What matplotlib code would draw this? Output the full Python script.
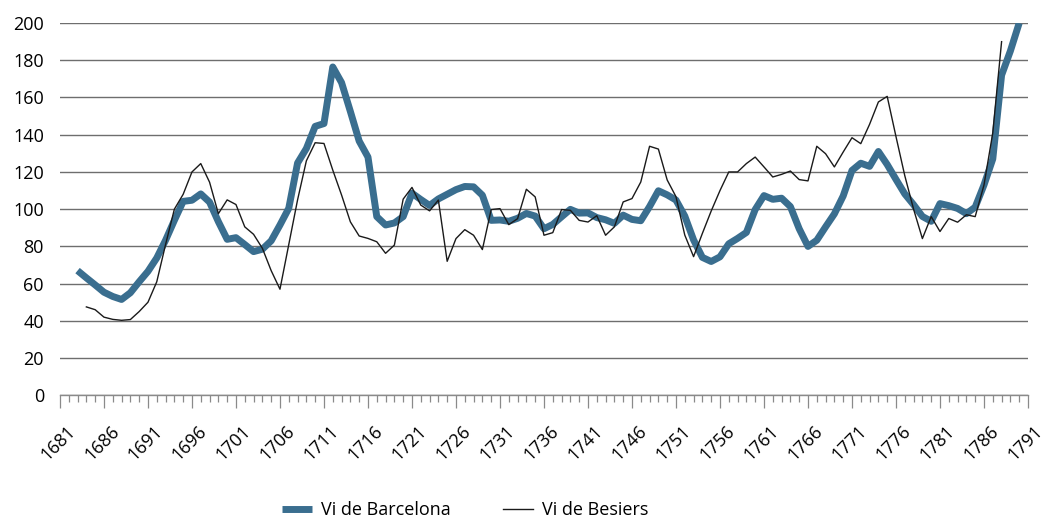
import matplotlib
matplotlib.use("Agg")
import matplotlib.pyplot as plt
import matplotlib.transforms as mtransforms
from matplotlib.ticker import MultipleLocator

# Annual price index, Barcelona wine (thick line) and Besiers wine (thin line)
barcelona_years = list(range(1683, 1791))
barcelona = [
    67, 63.1, 59.3, 55.4, 53.1, 51.5, 55.1, 61, 66.6, 73.8,            # 1683-1692
    83.3, 94, 104.2, 104.8, 108.2, 103.8, 93.3, 83.8, 84.7, 81,        # 1693-1702
    77.2, 78.5, 83, 91.5, 100.5, 124.8, 132.6, 144.5, 146, 176.4,      # 1703-1712
    168, 152.5, 136.6, 128, 96, 91.5, 92.6, 96, 108.6, 105.2,          # 1713-1722
    102, 105.5, 108, 110.5, 112.2, 112, 107.5, 94, 94.2, 93.5,         # 1723-1732
    95.1, 97.7, 96.3, 89.5, 91.8, 95.9, 99.9, 97.9, 98, 95.5,          # 1733-1742
    94.3, 92.4, 96.8, 94.5, 93.8, 101.4, 109.9, 107.7, 104.9, 96.3,    # 1743-1752
    83.5, 74.1, 71.9, 74.4, 81.4, 84.3, 87.5, 99.8, 107.3, 105.3,      # 1753-1762
    105.9, 101.4, 89.5, 80, 83.3, 90.5, 97.5, 107.1, 120.8, 124.7,     # 1763-1772
    123, 131, 124, 116, 108.2, 102.4, 96.1, 93.5, 103, 101.9,          # 1773-1782
    100.4, 97.6, 101.1, 113, 127, 172, 185, 200,                       # 1783-1790
]

besiers_years = list(range(1684, 1789))
besiers = [
    47.5, 46, 42, 40.8, 40.3, 40.7, 45, 50, 61, 81,                    # 1684-1693
    100, 108, 120, 124.5, 114.5, 97.6, 105, 102.5, 90.5, 86.5,         # 1694-1703
    79, 67, 57, 81, 105, 126, 135.7, 135.3, 121, 107.6,                # 1704-1713
    93.2, 85.6, 84.3, 82.5, 76.3, 80.7, 105.4, 111.7, 102.2, 99.1,     # 1714-1723
    104.9, 72, 84.2, 89, 86, 78.3, 99.8, 100.3, 91.7, 94.9,            # 1724-1733
    110.7, 106.6, 86, 87.4, 99.8, 99.4, 94, 93.1, 96.5, 86,            # 1734-1743
    90.5, 103.9, 105.7, 114.6, 133.8, 132.3, 115.7, 106.7, 86.1, 74.5, # 1744-1753
    87, 99, 110, 120, 120, 124.5, 128, 122.7, 117.3, 118.7,            # 1754-1763
    120.5, 115.9, 115.2, 133.8, 129.8, 122.7, 130.7, 138.4, 135.2, 145.6,  # 1764-1773
    157.6, 160.6, 139, 118, 100, 84.2, 96, 88, 95, 93,                 # 1774-1783
    97, 96, 113, 141, 190,                                             # 1784-1788
]

x_ticks = list(range(1681, 1792, 5))
y_ticks = list(range(0, 201, 20))

plt.rcParams['font.family'] = ['Open Sans', 'DejaVu Sans']
FS = 13

fig = plt.figure(figsize=(10.41, 5.19), dpi=100)
ax = fig.add_axes([0.0576, 0.2383, 0.9299, 0.7173])

ax.plot(barcelona_years, barcelona, color='#3a6e8f', lw=5,
        solid_joinstyle='round', solid_capstyle='butt',
        label='Vi de Barcelona', zorder=3)
ax.plot(besiers_years, besiers, color='#1a1a1a', lw=1.0,
        label='Vi de Besiers', zorder=4)

ax.set_xlim(1681, 1791)
ax.set_ylim(0, 200)

ax.set_yticks(y_ticks)
ax.grid(axis='y', color='#6e6e6e', lw=1.0)
ax.set_axisbelow(True)

ax.set_xticks(x_ticks)
ax.set_xticklabels([str(y) for y in x_ticks], rotation=45, ha='right',
                   rotation_mode='anchor')
ax.xaxis.set_minor_locator(MultipleLocator(1))
ax.tick_params(axis='x', which='major', length=9.5, width=0.9,
               color='#8a8a8a', labelsize=FS, pad=10)
ax.tick_params(axis='x', which='minor', length=5, width=0.9, color='#8a8a8a')
ax.tick_params(axis='y', length=0, pad=11.5, labelsize=FS)

# push rotated year labels a little to the right, as in the original
shift = mtransforms.ScaledTranslation(0.06, 0, fig.dpi_scale_trans)
for lab in ax.get_xticklabels():
    lab.set_transform(lab.get_transform() + shift)

for side in ('top', 'right', 'left'):
    ax.spines[side].set_visible(False)
ax.spines['bottom'].set_color('#8a8a8a')
ax.spines['bottom'].set_linewidth(1.0)

fig.legend(loc='lower center', bbox_to_anchor=(0.447, -0.032), ncol=2,
           frameon=False, fontsize=FS, handlelength=1.66,
           handletextpad=0.5, columnspacing=2.9)

fig.savefig('out.png', dpi=100)
